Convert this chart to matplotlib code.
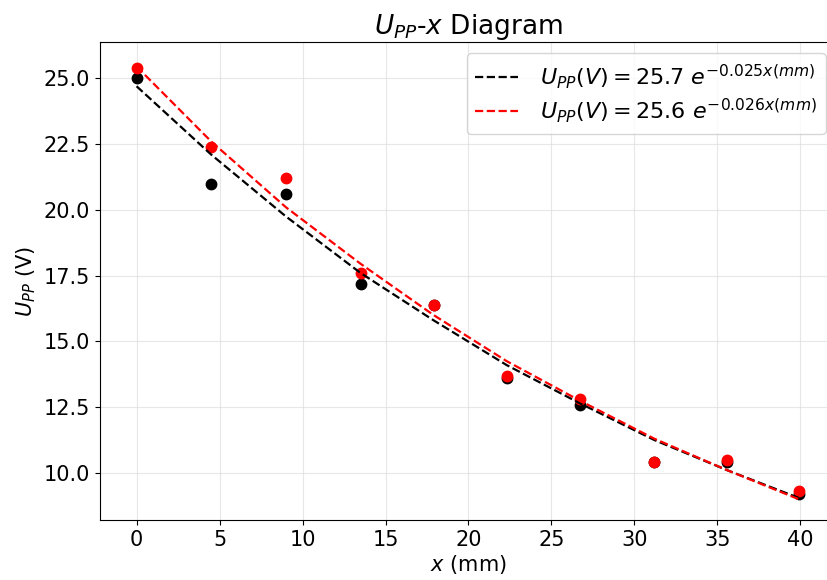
import matplotlib
matplotlib.use('Agg')
import matplotlib.pyplot as plt

# measured positions (mm) and peak-to-peak voltages (V)
x_mm = [0, 4.5, 9.0, 13.5, 17.9, 22.3, 26.7, 31.2, 35.6, 39.9]
upp_black = [25.0, 21.0, 20.6, 17.2, 16.4, 13.6, 12.6, 10.4, 10.4, 9.2]
upp_red = [25.4, 22.4, 21.2, 17.6, 16.4, 13.7, 12.8, 10.4, 10.5, 9.3]

# fitted curves
fit_black = [24.7, 22.1, 19.75, 17.6, 15.8, 14.1, 12.65, 11.25, 10.1, 9.05]
fit_red = [25.45, 22.6, 20.1, 17.95, 16.0, 14.25, 12.75, 11.3, 10.1, 9.0]

labels = [r'$U_{PP}(V) = 25.7\ e^{-0.025x(mm)}$',
          r'$U_{PP}(V) = 25.6\ e^{-0.026x(mm)}$']

fig = plt.figure(figsize=(8.27, 5.8), dpi=100)
# the right spine sits just past the image edge in the original
ax = fig.add_axes([0.121, 0.103, 0.891, 0.824])

ax.plot(x_mm, upp_black, 'o', color='black', ms=7.5, zorder=3)
ax.plot(x_mm, upp_red, 'o', color='red', ms=7.5, zorder=3)
ax.plot(x_mm, fit_black, '--', color='black', lw=1.6, label=labels[0], zorder=4)
ax.plot(x_mm, fit_red, '--', color='red', lw=1.6, label=labels[1], zorder=4)

ax.set_title(r'$U_{PP}$-$x$ Diagram', fontsize=19)
ax.set_xlabel(r'$x$ (mm)', fontsize=15, labelpad=2)
ax.set_ylabel(r'$U_{PP}$ (V)', fontsize=15)
ax.tick_params(labelsize=15)
ax.set_xlim(-2.2, 42.2)
ax.set_ylim(8.2, 26.37)
ax.set_yticks([10.0, 12.5, 15.0, 17.5, 20.0, 22.5, 25.0])
ax.grid(True, color='#dddddd', lw=0.8, alpha=0.7)
ax.legend(loc='upper right', fontsize=16, labelspacing=0.25,
          handlelength=1.9, handletextpad=1.0, borderpad=0.4)

fig.savefig('out.png', dpi=100)
